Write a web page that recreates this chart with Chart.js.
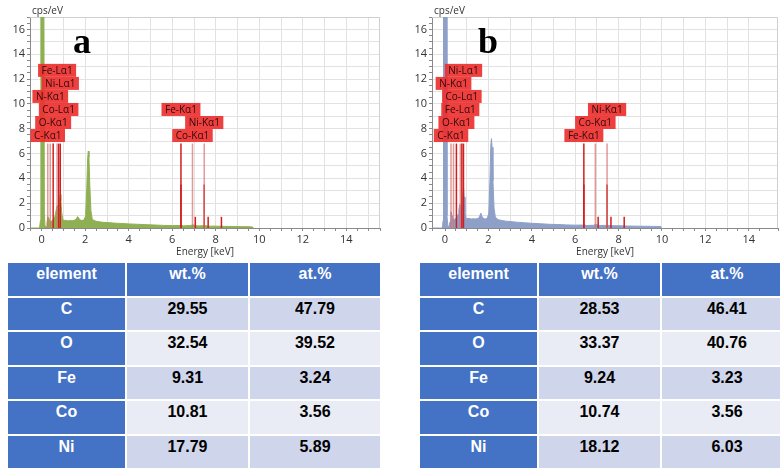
<!DOCTYPE html>
<html>
<head>
<meta charset="utf-8">
<script src="https://cdn.jsdelivr.net/npm/chart.js@4/dist/chart.umd.min.js"></script>
<style>
  html, body { margin: 0; padding: 0; width: 780px; height: 470px; overflow: hidden; background: #fff; }
  .chartBox { position: absolute; top: 0; width: 390px; height: 260px; }
  #boxA { left: 0; }
  #boxB { left: 390px; }
  table.eds {
    position: absolute; top: 261px;
    border-collapse: separate; border-spacing: 2px;
    table-layout: fixed; width: 376px;
    font-family: "Liberation Sans", Arial, sans-serif; font-weight: bold; font-size: 16px;
  }
  #tableA { left: 6px; }
  #tableB { left: 418px; }
  table.eds td { height: 32.5px; padding: 0; text-align: center; vertical-align: top; line-height: 21px; }
  table.eds td.head { background: #4472C4; color: #fff; }
  table.eds tr.odd td.val { background: #CFD5EA; color: #000; }
  table.eds tr.even td.val { background: #E9EBF5; color: #000; }
</style>
</head>
<body>
<div class="chartBox" id="boxA"><canvas id="chartA"></canvas></div>
<div class="chartBox" id="boxB"><canvas id="chartB"></canvas></div>
<table class="eds" id="tableA"></table>
<table class="eds" id="tableB"></table>
<script>
// spectrum (a) - energy in keV, counts in cps/eV
const specA_keV = [-0.54, -0.1, -0.06, -0.04, 0.10, 0.12, 0.15, 0.2, 0.24, 0.28, 0.32, 0.36, 0.4, 0.45, 0.5, 0.55, 0.6, 0.64, 0.68, 0.71,
  0.74, 0.78, 0.82, 0.85, 0.88, 0.92, 0.96, 1.0, 1.1, 1.2, 1.3, 1.4, 1.5, 1.58, 1.65, 1.7, 1.76, 1.85, 1.95, 2.02,
  2.07, 2.11, 2.14, 2.17, 2.21, 2.26, 2.32, 2.4, 2.5, 2.65, 2.8, 3.0, 3.3, 3.6, 4.0, 4.4, 4.8, 5.2, 5.6, 6.0,
  6.35, 6.42, 6.5, 6.85, 6.95, 7.05, 7.2, 7.5, 7.7, 8.0, 8.4, 8.8, 9.2, 9.6, 9.7, 9.72];
const specA_cps = [0, 0, 0.6, 18, 18, 1.2, 0.15, 0.1, 0.4, 0.9, 0.8, 0.6, 0.5, 0.55, 0.65, 0.7, 0.9, 1.2, 1.6, 1.8,
  1.6, 1.7, 2.3, 2.7, 2.2, 1.2, 0.75, 0.6, 0.62, 0.57, 0.6, 0.58, 0.63, 0.7, 0.92, 0.8, 0.65, 0.6, 0.66, 1.0,
  3.2, 5.6, 6.2, 5.7, 3.4, 1.4, 0.75, 0.6, 0.55, 0.5, 0.46, 0.44, 0.4, 0.37, 0.33, 0.3, 0.27, 0.24, 0.21, 0.19,
  0.2, 0.24, 0.17, 0.2, 0.26, 0.2, 0.17, 0.19, 0.15, 0.15, 0.13, 0.12, 0.11, 0.1, 0.08, 0];

// spectrum (b)
const specB_keV = [-0.6, -0.12, -0.09, -0.07, 0.07, 0.09, 0.13, 0.18, 0.23, 0.27, 0.31, 0.36, 0.4, 0.45, 0.5, 0.55, 0.6, 0.64, 0.68, 0.71,
  0.74, 0.78, 0.82, 0.85, 0.88, 0.92, 0.96, 1.0, 1.1, 1.2, 1.3, 1.4, 1.5, 1.58, 1.65, 1.7, 1.76, 1.85, 1.95, 2.02,
  2.07, 2.11, 2.14, 2.17, 2.21, 2.26, 2.32, 2.4, 2.5, 2.65, 2.8, 3.0, 3.3, 3.6, 4.0, 4.4, 4.8, 5.2, 5.6, 6.0,
  6.35, 6.42, 6.5, 6.85, 6.95, 7.05, 7.2, 7.5, 7.7, 8.0, 8.4, 8.8, 9.2, 9.6, 9.95, 9.97];
const specB_cps = [0, 0, 0.6, 18, 18, 1.0, 0.15, 0.1, 0.5, 1.3, 1.1, 0.8, 0.6, 0.7, 0.8, 0.9, 1.1, 1.5, 1.9, 1.8,
  1.5, 1.7, 2.6, 3.4, 2.5, 1.3, 0.85, 0.75, 0.78, 0.72, 0.74, 0.73, 0.76, 0.85, 1.2, 0.95, 0.78, 0.72, 0.8, 1.2,
  3.8, 6.6, 7.2, 6.5, 3.8, 1.6, 0.9, 0.72, 0.65, 0.6, 0.55, 0.52, 0.47, 0.43, 0.38, 0.34, 0.3, 0.28, 0.25, 0.23,
  0.24, 0.28, 0.2, 0.22, 0.3, 0.22, 0.2, 0.22, 0.18, 0.18, 0.16, 0.15, 0.14, 0.13, 0.12, 0];

// element marker lines (same for both spectra)
const lineKeV = [0.277, 0.392, 0.525, 0.705, 0.776, 0.851, 6.40, 6.93, 7.47, 6.40, 7.47, 7.06, 7.65, 8.26];
const lineTop = [6.8, 6.8, 6.8, 6.8, 6.8, 6.8, 6.8, 6.8, 6.8, 3.5, 3.5, 0.9, 0.9, 0.9];
const paleLines = [0.277, 0.392, 0.705, 6.93, 7.47];

// peak labels: [text, keV, level]
const labelsA = [['Fe-Lα1', 0.705, 12.7], ['Ni-Lα1', 0.851, 11.65], ['N-Kα1', 0.392, 10.6], ['Co-Lα1', 0.776, 9.55],
  ['O-Kα1', 0.525, 8.5], ['C-Kα1', 0.277, 7.45], ['Fe-Kα1', 6.40, 9.55], ['Ni-Kα1', 7.47, 8.5], ['Co-Kα1', 6.93, 7.45]];
const labelsB = [['Ni-Lα1', 0.851, 12.7], ['N-Kα1', 0.392, 11.65], ['Co-Lα1', 0.776, 10.6], ['Fe-Lα1', 0.705, 9.55],
  ['O-Kα1', 0.525, 8.5], ['C-Kα1', 0.277, 7.45], ['Ni-Kα1', 7.47, 9.55], ['Co-Kα1', 6.93, 8.5], ['Fe-Kα1', 6.40, 7.45]];

// composition tables
const elements = ['C', 'O', 'Fe', 'Co', 'Ni'];
const wtA = ['29.55', '32.54', '9.31', '10.81', '17.79'];
const atA = ['47.79', '39.52', '3.24', '3.56', '5.89'];
const wtB = ['28.53', '33.37', '9.24', '10.74', '18.12'];
const atB = ['46.41', '40.76', '3.23', '3.56', '6.03'];

const font = '"Open Sans", "DejaVu Sans", sans-serif';

// red boxes, frame, unit label and panel letter
const decor = {
  id: 'decor',
  beforeDatasetsDraw(chart) {
    const {ctx, chartArea: a} = chart;
    ctx.save();
    ctx.strokeStyle = '#d0d0d0';
    ctx.lineWidth = 1;
    ctx.beginPath();
    ctx.moveTo(a.left, a.top + 0.5); ctx.lineTo(a.right - 0.5, a.top + 0.5); ctx.lineTo(a.right - 0.5, a.bottom);
    ctx.stroke();
    ctx.restore();
  },
  afterDatasetsDraw(chart, args, opts) {
    const {ctx, chartArea: a, scales: {x, y}} = chart;
    ctx.save();
    ctx.font = '10px ' + font;
    ctx.textAlign = 'center';
    ctx.textBaseline = 'middle';
    opts.labels.forEach(([text, e, lvl]) => {
      const px = x.getPixelForValue(e), py = y.getPixelForValue(lvl);
      const w = ctx.measureText(text).width + 7, h = 13;
      ctx.fillStyle = 'rgba(238,48,48,0.92)';
      ctx.fillRect(px - w / 2, py - h / 2, w, h);
      ctx.fillStyle = '#2e0a0a';
      ctx.fillText(text, px, py + 0.5);
    });
    ctx.textAlign = 'left';
    ctx.fillStyle = '#333';
    ctx.fillText('cps/eV', a.left + 2, 11);
    ctx.font = 'bold 36px "Liberation Serif", "DejaVu Serif", serif';
    ctx.textBaseline = 'alphabetic';
    ctx.fillStyle = '#000';
    ctx.fillText(opts.letter, a.left + opts.letterDx, 53);
    ctx.restore();
  }
};

function makeChart(id, keV, cps, color, labels, letter, letterDx, xMin, xMax, axisW, padRight) {
  const datasets = [{
    data: keV.map((e, i) => ({x: e, y: cps[i]})),
    borderColor: color,
    backgroundColor: color,
    borderWidth: 1,
    fill: 'origin',
    pointRadius: 0,
    tension: 0,
    order: 2
  }];
  lineKeV.forEach((e, i) => {
    datasets.push({
      data: [{x: e, y: 0}, {x: e, y: lineTop[i]}],
      borderColor: paleLines.includes(e) && lineTop[i] > 5 ? 'rgba(214,110,110,0.7)' : '#d21e1e',
      borderWidth: 1.5,
      fill: false,
      pointRadius: 0,
      order: 1
    });
  });

  new Chart(document.getElementById(id), {
    type: 'line',
    data: { datasets: datasets },
    options: {
      responsive: true,
      maintainAspectRatio: false,
      animation: false,
      layout: { padding: { top: 17, right: padRight, left: 0, bottom: 0 } },
      plugins: {
        legend: { display: false },
        tooltip: { enabled: false },
        decor: { labels: labels, letter: letter, letterDx: letterDx }
      },
      scales: {
        x: {
          type: 'linear', min: xMin, max: xMax,
          afterFit: s => { s.height = 32; },
          border: { color: '#8a8a8a' },
          grid: {
            color: c => Math.abs(c.tick.value - Math.round(c.tick.value)) < 1e-6 ? '#e2e2e2' : 'rgba(0,0,0,0)',
            tickColor: '#8a8a8a', tickLength: 3
          },
          ticks: {
            stepSize: 0.5, autoSkip: false, maxRotation: 0, padding: 2, color: '#333',
            font: { family: font, size: 11 },
            callback: v => (v > -0.01 && Math.abs(v / 2 - Math.round(v / 2)) < 1e-6) ? String(Math.round(v)) : ''
          },
          title: { display: true, text: 'Energy [keV]', color: '#333', font: { family: font, size: 10 }, padding: { top: 0, bottom: 2 } }
        },
        y: {
          min: 0, max: 17,
          afterFit: s => { s.width = axisW; },
          border: { color: '#8a8a8a' },
          grid: {
            color: c => Math.abs(c.tick.value - Math.round(c.tick.value)) < 1e-6 ? '#e2e2e2' : 'rgba(0,0,0,0)',
            tickColor: '#8a8a8a', tickLength: 3
          },
          ticks: {
            stepSize: 0.5, autoSkip: false, padding: 2, color: '#333',
            font: { family: font, size: 11 },
            callback: v => (Math.abs(v / 2 - Math.round(v / 2)) < 1e-6) ? String(Math.round(v)) : ''
          }
        }
      }
    },
    plugins: [decor]
  });
}

makeChart('chartA', specA_keV, specA_cps, '#8fb052', labelsA, 'a', 43, -0.54, 15.55, 30, 10);
makeChart('chartB', specB_keV, specB_cps, '#8ea0c8', labelsB, 'b', 46, -0.6, 15.35, 42, 0);

function fillTable(id, wt, at) {
  const t = document.getElementById(id);
  let html = '<colgroup><col style="width:117px"><col style="width:121px"><col style="width:130px"></colgroup>';
  html += '<tr><td class="head">element</td><td class="head">wt.%</td><td class="head">at.%</td></tr>';
  elements.forEach((el, i) => {
    html += '<tr class="' + (i % 2 === 0 ? 'odd' : 'even') + '"><td class="head">' + el + '</td><td class="val">' +
      wt[i] + '</td><td class="val">' + at[i] + '</td></tr>';
  });
  t.innerHTML = html;
}
fillTable('tableA', wtA, atA);
fillTable('tableB', wtB, atB);
</script>
</body>
</html>
